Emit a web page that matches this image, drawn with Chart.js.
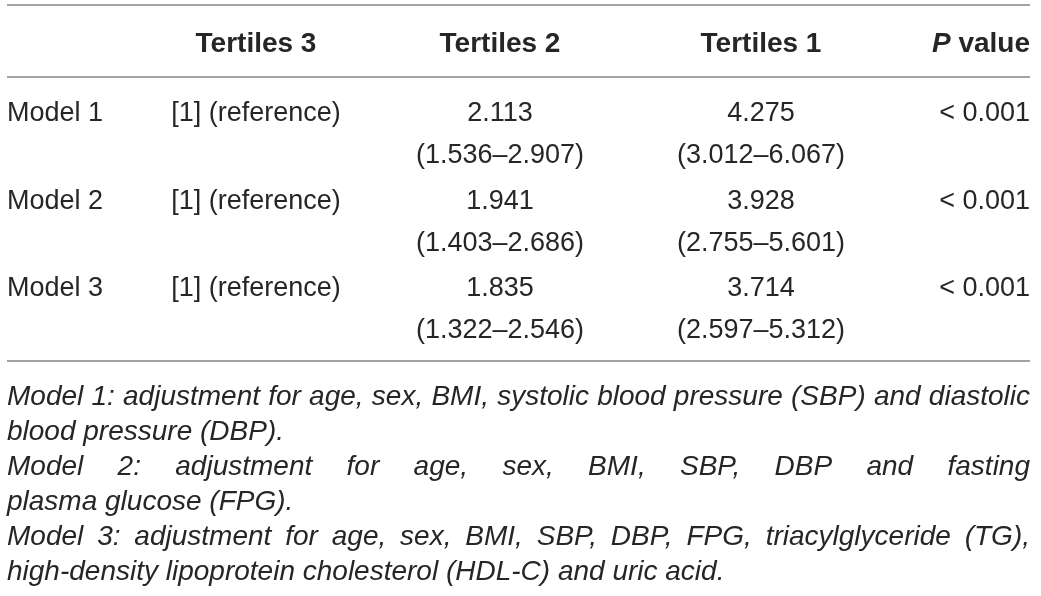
<!DOCTYPE html>
<html>
<head>
<meta charset="utf-8">
<script src="https://cdn.jsdelivr.net/npm/chart.js@4.4.0/dist/chart.umd.min.js"></script>
<style>
    html, body { margin: 0; padding: 0; background: #fff; }
    #wrap { width: 1041px; height: 596px; }
</style>
</head>
<body>
<div id="wrap"><canvas id="oddsTable"></canvas></div>
<script>
// table content
const columns = ['', 'Tertiles 3', 'Tertiles 2', 'Tertiles 1', 'P value'];
const models = ['Model 1', 'Model 2', 'Model 3'];
const tertile3 = ['[1] (reference)', '[1] (reference)', '[1] (reference)'];
const tertile2OR = [2.113, 1.941, 1.835];
const tertile2Low = [1.536, 1.403, 1.322];
const tertile2High = [2.907, 2.686, 2.546];
const tertile1OR = [4.275, 3.928, 3.714];
const tertile1Low = [3.012, 2.755, 2.597];
const tertile1High = [6.067, 5.601, 5.312];
const pValues = ['< 0.001', '< 0.001', '< 0.001'];
// "\n" marks where the printed footnote breaks its lines
const notes = [
    'Model 1: adjustment for age, sex, BMI, systolic blood pressure (SBP) and diastolic\nblood pressure (DBP).',
    'Model 2: adjustment for age, sex, BMI, SBP, DBP and fasting\nplasma glucose (FPG).',
    'Model 3: adjustment for age, sex, BMI, SBP, DBP, FPG, triacylglyceride (TG),\nhigh-density lipoprotein cholesterol (HDL-C) and uric acid.'
];

// layout (page units, mapped through the chart scales)
const colX = [7, 256, 500, 761, 1030];
const colAlign = ['left', 'center', 'center', 'center', 'right'];
const ruleY = [5, 77, 361];
const headerBase = 52;
const rowBase = 121;
const rowPitch = 87.5;
const subGap = 42;
const noteBase = 405;
const notePitch = 35;
const FONT = '"Liberation Sans", Arial, Helvetica, sans-serif';
const INK = '#262626';

const fmt = v => v.toFixed(3);
const ci = (lo, hi) => '(' + fmt(lo) + '\u2013' + fmt(hi) + ')';

const tablePlugin = {
    id: 'tablePlugin',
    afterDraw(chart) {
        const ctx = chart.ctx;
        const xs = chart.scales.x;
        const ys = chart.scales.y;
        const px = v => xs.getPixelForValue(v);
        const py = v => ys.getPixelForValue(v);

        ctx.save();
        // rules
        ctx.strokeStyle = '#a3a3a3';
        ctx.lineWidth = 2;
        ruleY.forEach(y => {
            ctx.beginPath();
            ctx.moveTo(px(colX[0]), py(y));
            ctx.lineTo(px(colX[4]), py(y));
            ctx.stroke();
        });

        ctx.fillStyle = INK;
        ctx.textBaseline = 'alphabetic';

        // header
        ctx.font = 'bold 28px ' + FONT;
        columns.forEach((c, i) => {
            if (!c || i === 4) return;
            ctx.textAlign = colAlign[i];
            ctx.fillText(c, px(colX[i]), py(headerBase));
        });
        // "P value" with italic P
        ctx.textAlign = 'right';
        const rest = columns[4].slice(1);
        ctx.fillText(rest, px(colX[4]), py(headerBase));
        const w = ctx.measureText(rest).width;
        ctx.font = 'italic bold 28px ' + FONT;
        ctx.fillText(columns[4][0], px(colX[4]) - w, py(headerBase));

        // body rows
        ctx.font = '27px ' + FONT;
        models.forEach((m, r) => {
            const y1 = rowBase + r * rowPitch;
            const y2 = y1 + subGap;
            const cells = [
                [m], [tertile3[r]],
                [fmt(tertile2OR[r]), ci(tertile2Low[r], tertile2High[r])],
                [fmt(tertile1OR[r]), ci(tertile1Low[r], tertile1High[r])],
                [pValues[r]]
            ];
            cells.forEach((lines, i) => {
                ctx.textAlign = colAlign[i];
                ctx.fillText(lines[0], px(colX[i]), py(y1));
                if (lines[1]) ctx.fillText(lines[1], px(colX[i]), py(y2));
            });
        });

        // footnotes, justified except for the last line of each note
        ctx.font = 'italic 28px ' + FONT;
        ctx.textAlign = 'left';
        const left = px(colX[0]);
        const width = px(colX[4]) - left;
        const space = ctx.measureText(' ').width;
        let line = 0;
        notes.forEach(note => {
            const parts = note.split('\n');
            parts.forEach((text, k) => {
                const words = text.split(' ');
                const justify = k < parts.length - 1 && words.length > 1;
                const wordsW = words.reduce((s, t) => s + ctx.measureText(t).width, 0);
                const gap = justify ? (width - wordsW) / (words.length - 1) : space;
                const y = py(noteBase + line * notePitch);
                let x = left;
                words.forEach(t => {
                    ctx.fillText(t, x, y);
                    x += ctx.measureText(t).width + gap;
                });
                line++;
            });
        });
        ctx.restore();
    }
};

const ctx = document.getElementById('oddsTable').getContext('2d');
const oddsChart = new Chart(ctx, {
    type: 'scatter',
    data: { datasets: [{ data: [], pointRadius: 0 }] },
    options: {
        responsive: true,
        maintainAspectRatio: false,
        animation: false,
        layout: { padding: 0 },
        plugins: { legend: { display: false }, tooltip: { enabled: false } },
        scales: {
            x: { type: 'linear', min: 0, max: 1041, display: false },
            y: { type: 'linear', min: 0, max: 596, reverse: true, display: false }
        }
    },
    plugins: [tablePlugin]
});
</script>
</body>
</html>
